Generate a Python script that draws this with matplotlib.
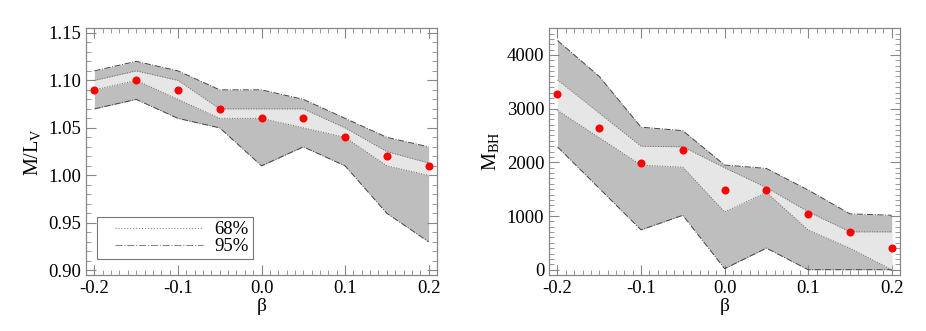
import matplotlib
matplotlib.use("Agg")
import matplotlib.pyplot as plt
from matplotlib.ticker import MultipleLocator, FormatStrFormatter
from matplotlib.lines import Line2D
from matplotlib.legend_handler import HandlerLine2D

beta = [-0.2, -0.15, -0.1, -0.05, 0.0, 0.05, 0.1, 0.15, 0.2]

# Left panel: M/L_V
ml_best = [1.09, 1.10, 1.09, 1.07, 1.06, 1.06, 1.04, 1.02, 1.01]
ml_68_hi = [1.10, 1.11, 1.10, 1.07, 1.07, 1.07, 1.05, 1.025, 1.013]
ml_68_lo = [1.09, 1.10, 1.08, 1.06, 1.06, 1.05, 1.04, 1.01, 1.00]
ml_95_hi = [1.11, 1.12, 1.11, 1.09, 1.09, 1.08, 1.06, 1.04, 1.03]
ml_95_lo = [1.07, 1.08, 1.06, 1.05, 1.01, 1.03, 1.01, 0.96, 0.93]

# Right panel: M_BH
bh_best = [3264, 2646, 1988, 2235, 1484, 1478, 1039, 705, 396]
bh_68_hi = [3537, 2917, 2300, 2290, 1900, 1530, 1080, 705, 705]
bh_68_lo = [2967, 2460, 1947, 1910, 1075, 1440, 740, 400, 0]
bh_95_hi = [4270, 3600, 2655, 2590, 1950, 1886, 1484, 1040, 1014]
bh_95_lo = [2287, 1515, 742, 1014, 20, 402, 0, 0, 0]

legend_labels = ['68%', '95%']

plt.rcParams['font.family'] = ['Liberation Serif', 'DejaVu Serif']
plt.rcParams['mathtext.fontset'] = 'custom'
plt.rcParams['mathtext.rm'] = 'Liberation Serif'
plt.rcParams['mathtext.it'] = 'Liberation Serif'

DARK = '#bebebe'
LIGHT = '#e6e6e6'
EDGE = '#444444'
AXC = '#888888'

fig = plt.figure(figsize=(9.26, 3.31), dpi=100)
ax1 = fig.add_axes([0.0929, 0.169, 0.379, 0.746])
ax2 = fig.add_axes([0.593, 0.169, 0.379, 0.746])


def draw(ax, best, lo68, hi68, lo95, hi95):
    ax.fill_between(beta, lo95, hi95, color=DARK, lw=0, zorder=1)
    ax.fill_between(beta, lo68, hi68, color=LIGHT, lw=0, zorder=2)
    for arr in (lo95, hi95):
        ax.plot(beta, arr, color=EDGE, lw=0.7, ls='-.', zorder=3)
    for arr in (lo68, hi68):
        ax.plot(beta, arr, color='#666666', lw=0.7, ls=':', zorder=3)
    ax.plot(beta, best, 'o', color='#ff0000', ms=5.8, mec='none', zorder=4)
    ax.set_xlim(-0.21, 0.21)
    ax.xaxis.set_major_locator(MultipleLocator(0.1))
    ax.xaxis.set_minor_locator(MultipleLocator(0.01))
    ax.xaxis.set_major_formatter(FormatStrFormatter('%.1f'))
    ax.tick_params(which='both', direction='in', top=True, right=True,
                   color=AXC, labelsize=13.5)
    ax.tick_params(which='major', length=7, width=0.8)
    ax.tick_params(which='minor', length=3.5, width=0.6)
    for s in ax.spines.values():
        s.set_color(AXC)
        s.set_linewidth(0.9)
    ax.set_xlabel('β', fontsize=14, labelpad=1)


class OffsetLineHandler(HandlerLine2D):
    def create_artists(self, legend, orig_handle, xdescent, ydescent,
                       width, height, fontsize, trans):
        y = (height - ydescent) / 2.0
        x0 = -xdescent + 0.14 * width
        x1 = -xdescent + width
        line = Line2D([x0, x1], [y, y])
        self.update_prop(line, orig_handle, legend)
        line.set_transform(trans)
        return [line]


draw(ax1, ml_best, ml_68_lo, ml_68_hi, ml_95_lo, ml_95_hi)
ax1.set_ylim(0.895, 1.155)
ax1.yaxis.set_major_locator(MultipleLocator(0.05))
ax1.yaxis.set_minor_locator(MultipleLocator(0.01))
ax1.yaxis.set_major_formatter(FormatStrFormatter('%.2f'))
ax1.set_ylabel(r'M/L$_{\mathrm{V}}$', fontsize=14.5)

handles = [Line2D([], [], color='#888888', lw=0.8, ls=':'),
           Line2D([], [], color='#888888', lw=0.8, ls='-.')]
leg = ax1.legend(handles, legend_labels, loc='lower left',
                 bbox_to_anchor=(0.03, 0.065), handlelength=5.5,
                 handletextpad=0.6, fontsize=13.5, fancybox=False,
                 framealpha=1, borderpad=0.2, labelspacing=0.0,
                 borderaxespad=0,
                 handler_map={Line2D: OffsetLineHandler()})
leg.get_frame().set_edgecolor('#777777')
leg.get_frame().set_linewidth(0.8)

draw(ax2, bh_best, bh_68_lo, bh_68_hi, bh_95_lo, bh_95_hi)
ax2.set_ylim(-100, 4500)
ax2.yaxis.set_major_locator(MultipleLocator(1000))
ax2.yaxis.set_minor_locator(MultipleLocator(100))
ax2.set_ylabel(r'M$_{\mathrm{BH}}$', fontsize=14.5)

fig.savefig('out.png', dpi=100)
